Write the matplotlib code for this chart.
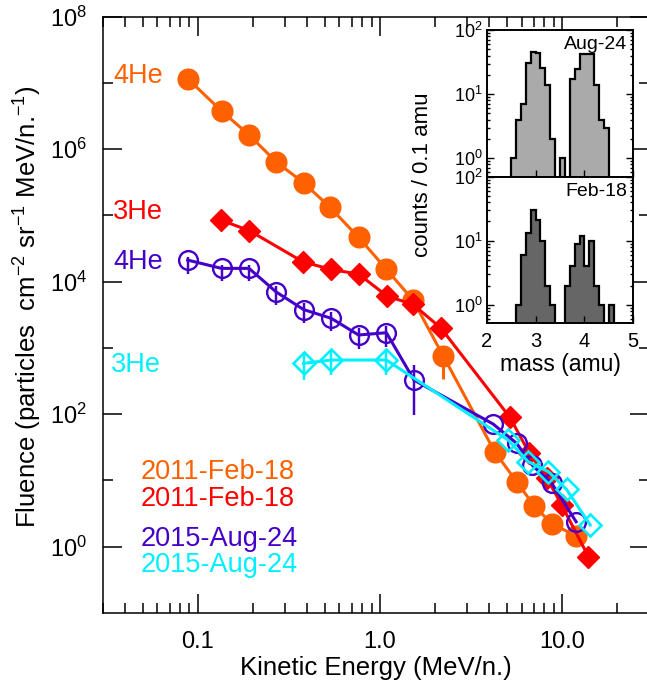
import numpy as np
import matplotlib
matplotlib.use("Agg")
import matplotlib.pyplot as plt
from matplotlib.ticker import FixedLocator, NullFormatter, FixedFormatter, LogLocator

plt.rcParams['font.family'] = ['Liberation Sans', 'DejaVu Sans']
plt.rcParams['mathtext.fontset'] = 'custom'
plt.rcParams['mathtext.rm'] = 'Liberation Sans'
plt.rcParams['mathtext.it'] = 'Liberation Sans:italic'
plt.rcParams['mathtext.bf'] = 'Liberation Sans:bold'

# ---------------- data ----------------
# 2011-Feb-18 4He
he4_feb_E = [0.088, 0.135, 0.192, 0.269, 0.381, 0.529, 0.764, 1.086, 1.52, 2.225, 4.28, 5.64, 7.02, 8.79, 11.97]
he4_feb_F = [1.16e7, 3.77e6, 1.63e6, 6.46e5, 3.12e5, 1.35e5, 4.68e4, 1.54e4, 5.3e3, 764, 26.9, 9.6, 4.16, 2.22, 1.46]
he4_feb_lo = [0, 0, 0, 0, 0, 0, 0, 0, 0, 425, 0, 0, 0, 0, 0]
he4_feb_hi = [0, 0, 0, 0, 0, 0, 0, 0, 0, 300, 0, 0, 0, 0, 0]
# 2011-Feb-18 3He
he3_feb_E = [0.134, 0.192, 0.378, 0.541, 0.766, 1.094, 1.52, 2.16, 5.18, 6.62, 8.28, 9.97, 13.98]
he3_feb_F = [8.5e4, 5.9e4, 2.0e4, 1.53e4, 1.30e4, 6.08e3, 4.55e3, 2.01e3, 89.7, 25.9, 10.9, 4.26, 0.71]
# 2015-Aug-24 4He
he4_aug_E = [0.088, 0.135, 0.191, 0.270, 0.381, 0.541, 0.764, 1.086, 1.54, 4.19, 5.64, 6.85, 8.79, 11.97]
he4_aug_F = [2.12e4, 1.59e4, 1.59e4, 6.98e3, 3.80e3, 2.80e3, 1.57e3, 1.70e3, 328, 71.1, 36.4, 17.1, 9.06, 2.38]
he4_aug_lo = [8000, 5500, 5500, 2500, 1400, 1000, 600, 650, 231, 0, 0, 0, 0, 0]
he4_aug_hi = [2500, 2000, 2000, 1500, 900, 700, 400, 450, 225, 0, 0, 0, 0, 0]
# 2015-Aug-24 3He
he3_aug_E = [0.381, 0.541, 1.086, 5.07, 6.53, 8.42, 10.6, 14.3]
he3_aug_F = [586, 658, 658, 40.7, 19.2, 13.6, 7.35, 2.13]
he3_aug_lo = [256, 270, 270, 0, 0, 0, 0, 0]
he3_aug_hi = [294, 272, 272, 0, 0, 0, 0, 0]

# mass histograms (counts per 0.1 amu, bins from 2.0 to 5.0)
mass_edges = [round(2.0 + 0.1 * i, 1) for i in range(31)]
counts_aug = [0, 0, 0, 0, 0, 1, 4, 7, 31, 45, 44, 26, 14, 2, 0, 1, 0, 17, 25, 42, 43, 43, 14, 4, 3, 0, 0, 0, 0, 0]
counts_feb = [0, 0, 0, 0, 0, 0, 1, 6, 13, 30, 21, 10, 2, 1, 0, 0, 2, 4, 9, 12, 4, 10, 2, 1, 0, 1, 0, 0, 0, 0]

x_ticks = [0.1, 1.0, 10.0]
x_ticklabels = ["0.1", "1.0", "10.0"]
y_major = [1e0, 1e2, 1e4, 1e6, 1e8]
y_minor = [1e1, 1e3, 1e5, 1e7]

C_OR = '#FF6000'
C_RD = '#FF0000'
C_PU = '#4400C8'
C_CY = '#00F0FF'

# ---------------- figure ----------------
W, H = 647, 685
fig = plt.figure(figsize=(W / 100, H / 100), dpi=100)
L, R, T, B = 102.6, 648.8, 16.7, 613.0
ax = fig.add_axes([L / W, (H - B) / H, (R - L) / W, (B - T) / H])
ax.set_xscale('log')
ax.set_yscale('log')
ax.set_xlim(0.03, 30)
ax.set_ylim(0.1, 1e8)

lw = 2.2
ax.plot(he4_feb_E, he4_feb_F, color=C_OR, lw=lw, zorder=2)
ax.errorbar(he4_feb_E, he4_feb_F, yerr=[he4_feb_lo, he4_feb_hi], fmt='o', color=C_OR,
            ms=14.9, elinewidth=lw, capsize=0, zorder=2.1)
ax.plot(he3_feb_E, he3_feb_F, color=C_RD, lw=lw, marker='D', ms=11, zorder=3)
ax.errorbar(he4_aug_E, he4_aug_F, yerr=[he4_aug_lo, he4_aug_hi], color=C_PU, lw=lw,
            marker='o', ms=13.5, mfc='none', mew=1.7, elinewidth=lw * 0.8, capsize=0, zorder=4)
ax.errorbar(he3_aug_E, he3_aug_F, yerr=[he3_aug_lo, he3_aug_hi], color=C_CY, lw=lw,
            marker='D', ms=11, mfc='none', mew=1.9, elinewidth=lw * 0.8, capsize=0, zorder=5)

ax.xaxis.set_major_locator(FixedLocator(x_ticks))
ax.xaxis.set_major_formatter(FixedFormatter(x_ticklabels))
ax.xaxis.set_minor_locator(LogLocator(base=10, subs=np.arange(2, 10)))
ax.xaxis.set_minor_formatter(NullFormatter())
ax.yaxis.set_major_locator(FixedLocator(y_major))
ax.yaxis.set_minor_locator(FixedLocator(y_minor))
ax.yaxis.set_minor_formatter(NullFormatter())
ax.tick_params(which='both', direction='in', top=True, right=True, width=1.1, labelsize=17)
ax.tick_params(which='major', length=14)
ax.tick_params(which='minor', length=7)
ax.tick_params(axis='x', which='major', pad=13)
ax.tick_params(axis='y', which='major', pad=11)
for s in ax.spines.values():
    s.set_linewidth(1.1)

ax.set_xlabel("Kinetic Energy (MeV/n.)", fontsize=18.5)
ax.xaxis.set_label_coords(0.5, (B - 655.5) / (B - T))
ax.set_ylabel(r"Fluence (particles  cm$^{-2}$ sr$^{-1}$ MeV/n.$^{-1}$)", fontsize=18.5)
ax.yaxis.set_label_coords((28 - L) / (R - L), (B - 307) / (B - T))
ax.yaxis.label.set_verticalalignment('center')

def ftext(px, py, s, c, **kw):
    fig.text(px / W, 1 - py / H, s, color=c, fontsize=19.5, va='center', **kw)

ftext(113, 76, "4He", C_OR)
ftext(113, 212, "3He", C_RD)
ftext(113, 262, "4He", C_PU)
ftext(111, 365, "3He", C_CY)
ftext(141, 472, "2011-Feb-18", C_OR)
ftext(141, 499, "2011-Feb-18", C_RD)
ftext(141, 539, "2015-Aug-24", C_PU)
ftext(141, 565, "2015-Aug-24", C_CY)

# ---------------- inset ----------------
IL, IR = 486.7, 633.3
panels = [(30.0, 176.7, counts_aug, '#AAAAAA', 'Aug-24'),
          (176.7, 323.3, counts_feb, '#666666', 'Feb-18')]
for i, (pt, pb, cnt, col, lab) in enumerate(panels):
    a = fig.add_axes([IL / W, (H - pb) / H, (IR - IL) / W, (pb - pt) / H])
    a.set_yscale('log')
    a.set_xlim(2, 5)
    a.set_ylim(0.516, 100)
    c = np.asarray(cnt, dtype=float)
    v = np.where(c > 0, c, 1e-3)
    a.stairs(v, mass_edges, baseline=1e-3, fill=True, color=col, zorder=1)
    a.stairs(v, mass_edges, baseline=1e-3, fill=False, color='black', lw=1.6, zorder=2)
    a.yaxis.set_major_locator(FixedLocator([1, 10, 100]))
    a.yaxis.set_minor_locator(LogLocator(base=10, subs=np.arange(2, 10)))
    a.yaxis.set_minor_formatter(NullFormatter())
    a.xaxis.set_major_locator(FixedLocator([2, 3, 4, 5]))
    a.tick_params(which='both', direction='in', left=True, right=True, top=False, width=1.0,
                  labelsize=13)
    a.tick_params(which='major', length=5)
    a.tick_params(which='minor', length=2.5)
    a.tick_params(axis='y', pad=3)
    for s in a.spines.values():
        s.set_linewidth(1.4)
    a.text(0.96, 0.90, lab, transform=a.transAxes, ha='right', va='center', fontsize=14)
    a.set_facecolor('white')
    a.set_zorder(6)
    if i == 0:
        a.tick_params(axis='x', labelbottom=False)
    else:
        a.tick_params(axis='x', pad=6, labelsize=14.5)
        a.set_xlabel("mass (amu)", fontsize=16.5, labelpad=2)

fig.text(423 / W, 1 - 175 / H, "counts / 0.1 amu", rotation=90, ha='center', va='center', fontsize=16)

fig.savefig("out.png", dpi=100)
